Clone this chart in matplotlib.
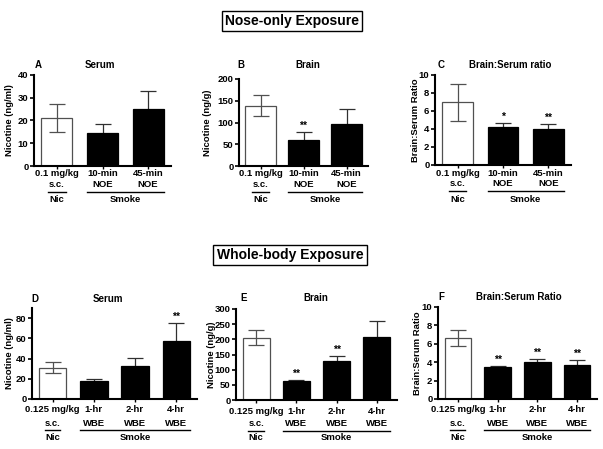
import matplotlib
matplotlib.use("Agg")
import matplotlib.pyplot as plt
from matplotlib.transforms import ScaledTranslation

plt.rcParams['font.family'] = ['Liberation Sans', 'DejaVu Sans']
plt.rcParams['font.weight'] = 'bold'

W, H = 603, 449
DPI = 100

# ---------------- data ----------------
noe_line1 = ["0.1 mg/kg", "10-min", "45-min"]
noe_line2 = ["s.c.", "NOE", "NOE"]
wbe_line1 = ["0.125 mg/kg", "1-hr", "2-hr", "4-hr"]
wbe_line2 = ["s.c.", "WBE", "WBE", "WBE"]
groups = ["Nic", "Smoke"]

A_vals = [21.1, 14.5, 24.9]
A_err = [6.25, 3.9, 8.0]
A_sig = ["", "", ""]

B_vals = [139, 60, 97]
B_err = [24, 18, 33]
B_sig = ["", "**", ""]

C_vals = [6.95, 4.2, 4.0]
C_err = [2.1, 0.5, 0.6]
C_sig = ["", "*", "**"]

D_vals = [31, 17.5, 32.5, 57.5]
D_err = [5.3, 2.0, 8.0, 18.0]
D_sig = ["", "", "", "**"]

E_vals = [205, 62, 127, 207]
E_err = [25, 3, 18, 53]
E_sig = ["", "**", "**", ""]

F_vals = [6.6, 3.5, 4.0, 3.65]
F_err = [0.85, 0.1, 0.3, 0.55]
F_sig = ["", "**", "**", "**"]

fig = plt.figure(figsize=(W / DPI, H / DPI), dpi=DPI)


def px_axes(l, t, r, b):
    return fig.add_axes([l / W, 1 - b / H, (r - l) / W, (b - t) / H])


def offs(ax, dy_px):
    return ax.get_xaxis_transform() + ScaledTranslation(0, -dy_px / DPI, fig.dpi_scale_trans)


def panel(box, vals, errs, sig, ylim, yticks, line1, line2, letter, title,
          ylabel, ylab_x, letter_x, title_x, title_y, rows, width):
    l, t, r, b = box
    ax = px_axes(l, t, r, b)
    n = len(vals)
    xs = list(range(n))
    # control (white) bar: error bar drawn on top
    ax.bar(xs[:1], vals[:1], width=width, color='white', edgecolor='#505050',
           linewidth=0.9, zorder=2)
    ax.errorbar(xs[:1], vals[:1], yerr=errs[:1], fmt='none', ecolor='#505050', elinewidth=0.9,
                capsize=6, capthick=0.9, zorder=3)
    # smoke (black) bars: error bars behind the bars so only the upper half shows
    ax.errorbar(xs[1:], vals[1:], yerr=errs[1:], fmt='none', ecolor='#303030', elinewidth=0.9,
                capsize=6, capthick=0.9, zorder=1)
    ax.bar(xs[1:], vals[1:], width=width, color='black', edgecolor='black',
           linewidth=0.9, zorder=2)
    span = ylim[1] - ylim[0]
    for x, v, e, s in zip(xs, vals, errs, sig):
        if s:
            ax.text(x, v + e + span * 0.012, s, ha='center', va='bottom', fontsize=7.5,
                    fontweight='bold')
    ax.set_xlim(-0.5, n - 0.5)
    ax.set_ylim(*ylim)
    ax.set_yticks(yticks)
    ax.set_xticks(xs)
    ax.set_xticklabels([])
    ax.tick_params(axis='y', direction='out', length=3, width=1.2, labelsize=6.8, pad=1)
    ax.tick_params(axis='x', direction='out', length=2, width=1.0)
    for lab in ax.get_yticklabels():
        lab.set_fontweight('bold')
    for s in ['top', 'right']:
        ax.spines[s].set_visible(False)
    ax.spines['left'].set_linewidth(1.5)
    ax.spines['bottom'].set_linewidth(1.5)
    ax.set_facecolor('none')

    r1, r2, ru, rg = rows
    for x, a, c in zip(xs, line1, line2):
        ax.text(x, 0, a, transform=offs(ax, r1), ha='center', va='center', fontsize=6.8,
                fontweight='bold', clip_on=False)
        ax.text(x, 0, c, transform=offs(ax, r2), ha='center', va='center', fontsize=6.8,
                fontweight='bold', clip_on=False)
    # underlines
    ax.plot([-0.19, 0.19], [0, 0], transform=offs(ax, ru), color='black', lw=1.0, clip_on=False)
    ax.plot([1 - width / 2, n - 1 + width / 2], [0, 0], transform=offs(ax, ru), color='black',
            lw=1.0, clip_on=False)
    ax.text(0, 0, groups[0], transform=offs(ax, rg), ha='center', va='center', fontsize=6.8,
            fontweight='bold', clip_on=False)
    ax.text((1 + n - 1) / 2, 0, groups[1], transform=offs(ax, rg), ha='center', va='center',
            fontsize=6.8, fontweight='bold', clip_on=False)

    fig.text(letter_x / W, 1 - title_y / H, letter, ha='center', va='center', fontsize=7,
             fontweight='bold')
    fig.text(title_x / W, 1 - title_y / H, title, ha='center', va='center', fontsize=7,
             fontweight='bold')
    fig.text(ylab_x / W, 1 - ((t + b) / 2) / H, ylabel, ha='center', va='center', fontsize=6.8,
             fontweight='bold', rotation=90)
    return ax


top_rows = (8, 18.5, 26, 34)
bot_rows = (11, 24, 31, 38)

panel((34, 75, 171, 166), A_vals, A_err, A_sig, (0, 40), [0, 10, 20, 30, 40],
      noe_line1, noe_line2, "A", "Serum", "Nicotine (ng/ml)", 10, 38, 100, 65, top_rows, 0.68)
panel((239, 79, 368, 166), B_vals, B_err, B_sig, (0, 200), [0, 50, 100, 150, 200],
      noe_line1, noe_line2, "B", "Brain", "Nicotine (ng/g)", 207, 241, 308, 65, top_rows, 0.7)
panel((435, 75, 571, 165), C_vals, C_err, C_sig, (0, 10), [0, 2, 4, 6, 8, 10],
      noe_line1, noe_line2, "C", "Brain:Serum ratio", "Brain:Serum Ratio", 415, 441, 510, 65,
      top_rows, 0.68)

panel((32, 308, 197, 399), D_vals, D_err, D_sig, (0, 90), [0, 20, 40, 60, 80],
      wbe_line1, wbe_line2, "D", "Serum", "Nicotine (ng/ml)", 10, 35, 108, 299, bot_rows, 0.67)
panel((236, 309, 397, 400), E_vals, E_err, E_sig, (0, 300), [0, 50, 100, 150, 200, 250, 300],
      wbe_line1, wbe_line2, "E", "Brain", "Nicotine (ng/g)", 211, 244, 316, 298, bot_rows, 0.67)
panel((438, 307, 597, 399), F_vals, F_err, F_sig, (0, 10), [0, 2, 4, 6, 8, 10],
      wbe_line1, wbe_line2, "F", "Brain:Serum Ratio", "Brain:Serum Ratio", 417, 441, 519, 297,
      bot_rows, 0.67)

# section headers
for txt, cx, cy in [("Nose-only Exposure", 292, 21), ("Whole-body Exposure", 290, 255)]:
    fig.text(cx / W, 1 - cy / H, txt, ha='center', va='center', fontsize=10, fontweight='bold',
             bbox=dict(boxstyle='square,pad=0.25', facecolor='white', edgecolor='black', lw=1.0))

fig.savefig("out.png", dpi=DPI)
